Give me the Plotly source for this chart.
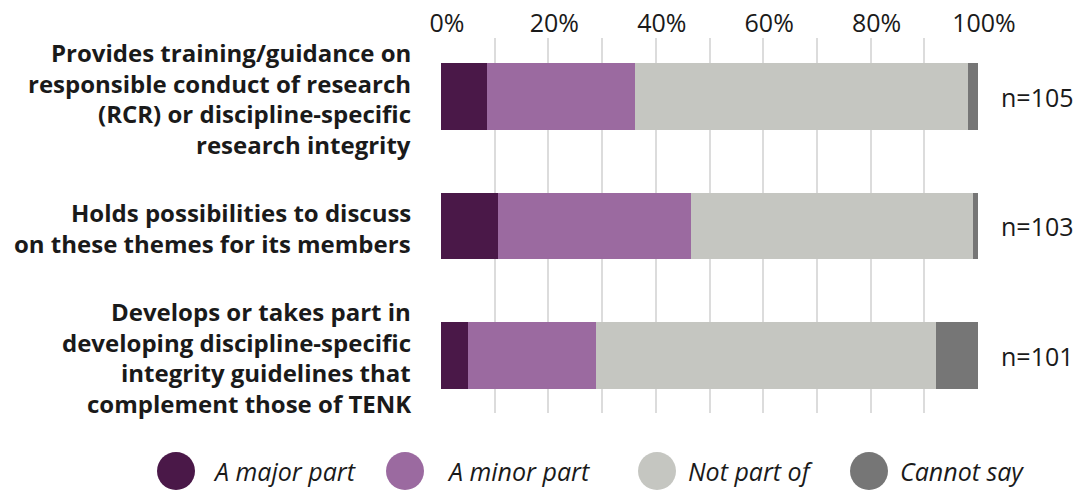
import plotly.graph_objects as go

# Survey items (top to bottom)
categories = [
    "Provides training/guidance on<br>responsible conduct of research<br>(RCR) or discipline-specific<br>research integrity",
    "Holds possibilities to discuss<br>on these themes for its members",
    "Develops or takes part in<br>developing discipline-specific<br>integrity guidelines that<br>complement those of TENK",
]
n_labels = ["n=105", "n=103", "n=101"]

series_names = ["A major part", "A minor part", "Not part of", "Cannot say"]
major_part = [8.6, 10.7, 5.0]
minor_part = [27.6, 35.9, 23.8]
not_part = [61.9, 52.4, 63.3]
cannot_say = [1.9, 1.0, 7.9]
series_values = [major_part, minor_part, not_part, cannot_say]
series_colors = ["#4A1848", "#9B6AA0", "#C5C6C1", "#767676"]

tick_vals = list(range(0, 101, 10))
tick_text = [f"{v}%" if v % 20 == 0 else "" for v in tick_vals]

FONT = "Open Sans"
TEXT = "#1a1a1a"

W, H = 1080, 493
L, R, T, B = 441, 102, 38, 80
PW, PH = W - L - R, H - T - B

ypos = list(range(len(categories)))

fig = go.Figure()
for name, vals, col in zip(series_names, series_values, series_colors):
    fig.add_trace(go.Bar(
        y=ypos, x=vals, name=name, orientation="h",
        marker=dict(color=col, line=dict(width=0)),
        width=0.517, showlegend=False,
        hovertemplate="%{x:.1f}%<extra>" + name + "</extra>",
    ))

annotations = []
LINE_H = 30.5
for i, cat in enumerate(categories):
    lines = cat.split("<br>")
    k = len(lines)
    for j, line in enumerate(lines):
        shift = ((k - 1) / 2 - j) * LINE_H - 2
        annotations.append(dict(
            x=(413 - L) / PW, xref="paper", y=i, yref="y", yshift=shift,
            text=line, showarrow=False, xanchor="right", yanchor="middle",
            font=dict(family=FONT, size=24, color=TEXT, weight="bold"),
        ))
    annotations.append(dict(
        x=(999 - L) / PW, xref="paper", y=i, yref="y", text=n_labels[i],
        showarrow=False, xanchor="left", yanchor="middle",
        font=dict(family=FONT, size=25, color=TEXT),
    ))

# Legend drawn as large circles with italic labels beneath the plot
shapes = []
legend_cx = [176, 405, 657, 869]
legend_tx = [211, 445, 686, 898]
legend_y = 471
r = 19
for name, col, cx, tx in zip(series_names, series_colors, legend_cx, legend_tx):
    shapes.append(dict(
        type="circle", xref="paper", yref="paper",
        x0=(cx - r - L) / PW, x1=(cx + r - L) / PW,
        y0=((H - B) - (legend_y + r)) / PH,
        y1=((H - B) - (legend_y - r)) / PH,
        fillcolor=col, line=dict(width=0),
    ))
    annotations.append(dict(
        x=(tx - L) / PW, xref="paper",
        y=((H - B) - legend_y) / PH, yref="paper",
        text=f"<i>{name}</i>", showarrow=False, xanchor="left", yanchor="middle",
        font=dict(family=FONT, size=25, color=TEXT),
    ))

fig.update_layout(
    width=W, height=H,
    margin=dict(l=L, r=R, t=T, b=B, pad=0, autoexpand=False),
    paper_bgcolor="white", plot_bgcolor="white",
    barmode="stack", bargap=0,
    xaxis=dict(
        side="top", range=[0, 100], tickvals=tick_vals, ticktext=tick_text,
        showgrid=True, gridcolor="#DCDCDC", gridwidth=2,
        zeroline=False, showline=False, ticks="",
        tickfont=dict(family=FONT, size=25, color=TEXT),
        ticklabelshift=6, automargin=False,
        fixedrange=True,
    ),
    yaxis=dict(
        range=[2.444, -0.452], showticklabels=False, showgrid=False,
        zeroline=False, showline=False, ticks="", fixedrange=True,
        automargin=False,
    ),
    annotations=annotations,
    shapes=shapes,
    showlegend=False,
)

fig.write_html("out.html")
